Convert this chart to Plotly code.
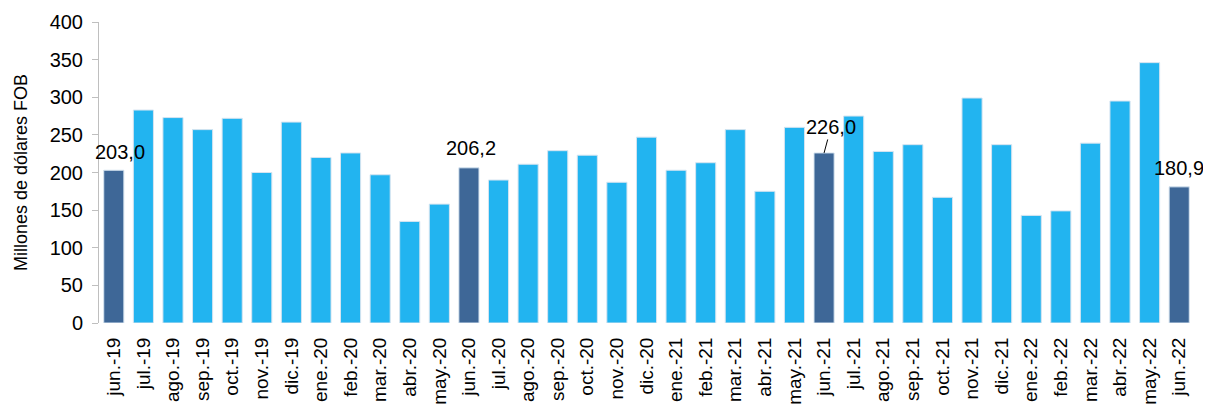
import plotly.graph_objects as go

months = ["jun.-19", "jul.-19", "ago.-19", "sep.-19", "oct.-19", "nov.-19", "dic.-19",
          "ene.-20", "feb.-20", "mar.-20", "abr.-20", "may.-20", "jun.-20", "jul.-20",
          "ago.-20", "sep.-20", "oct.-20", "nov.-20", "dic.-20", "ene.-21", "feb.-21",
          "mar.-21", "abr.-21", "may.-21", "jun.-21", "jul.-21", "ago.-21", "sep.-21",
          "oct.-21", "nov.-21", "dic.-21", "ene.-22", "feb.-22", "mar.-22", "abr.-22",
          "may.-22", "jun.-22"]
values = [203.0, 283.0, 273.0, 257.0, 272.0, 200.0, 267.0,
          220.0, 226.0, 197.0, 135.0, 158.0, 206.2, 190.0,
          211.0, 229.0, 223.0, 187.0, 247.0, 203.0, 213.0,
          257.0, 175.0, 260.0, 226.0, 275.0, 228.0, 237.0,
          167.0, 299.0, 237.0, 143.0, 149.0, 239.0, 295.0,
          346.0, 180.9]
highlight = ["jun.-19", "jun.-20", "jun.-21", "jun.-22"]
label_texts = ["203,0", "206,2", "226,0", "180,9"]

LIGHT = "#22B4F0"
DARK = "#3E6797"
FONT = "Liberation Sans, Arial, sans-serif"

colors = [DARK if m in highlight else LIGHT for m in months]

fig = go.Figure(go.Bar(
    x=months, y=values,
    marker=dict(color=colors, line=dict(color="#D6E4F0", width=1)),
    width=0.68,
))

shifts = {"jun.-19": (6, 18), "jun.-20": (2, 20), "jun.-22": (0, 19)}
for m, t in zip(highlight, label_texts):
    v = values[months.index(m)]
    if m in shifts:
        dx, dy = shifts[m]
        fig.add_annotation(x=m, y=v, text=t, showarrow=False, xshift=dx, yshift=dy,
                           yanchor="middle", font=dict(size=20, color="#000000", family=FONT))
    else:
        fig.add_annotation(x=m, y=v, text=t, showarrow=True, arrowhead=0, arrowwidth=1,
                           arrowcolor="#000000", ax=7, ay=-26, standoff=0,
                           font=dict(size=20, color="#000000", family=FONT))

# page body adds an 8px offset, so the figure is 8px smaller than the window
fig.update_layout(
    width=1203, height=398,
    margin=dict(l=91, r=17, t=14, b=83),
    paper_bgcolor="white", plot_bgcolor="white",
    font=dict(family=FONT, size=20, color="#000000"),
    showlegend=False,
    bargap=0.32,
)
fig.update_xaxes(
    tickangle=-90, showgrid=False, showline=False,
    ticks="outside", ticklen=6, tickcolor="rgba(0,0,0,0)",
    tickfont=dict(size=19, family=FONT), range=[-0.5, len(months) - 0.5],
    automargin=False,
)
fig.update_yaxes(
    range=[0, 400], dtick=50, showgrid=False, zeroline=False,
    showline=True, linecolor="#BFBFBF", linewidth=1,
    ticks="outside", ticklen=6, tickcolor="#BFBFBF",
    ticklabelstandoff=5,
    tickfont=dict(size=20, family=FONT),
    title=dict(text="Millones de dólares FOB", font=dict(size=18, family=FONT), standoff=17),
    automargin=False,
)

fig.write_html("out.html")
